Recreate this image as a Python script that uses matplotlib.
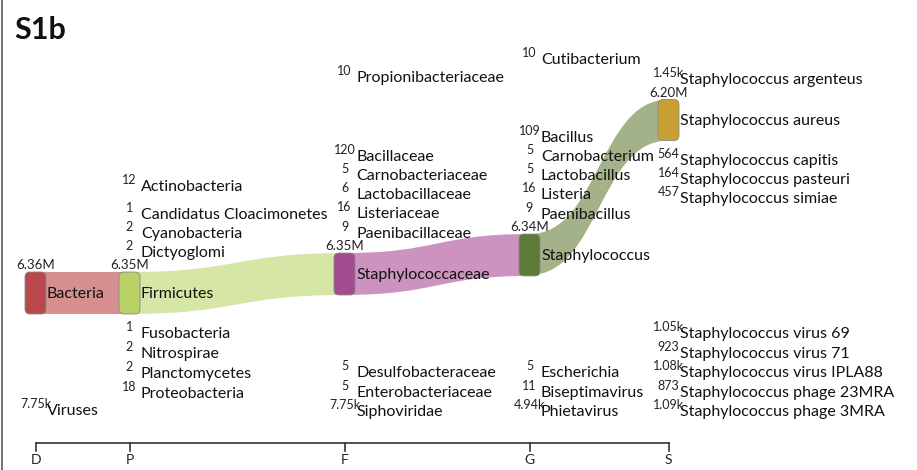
import matplotlib
matplotlib.use("Agg")
import matplotlib.pyplot as plt
from matplotlib.path import Path
from matplotlib.patches import PathPatch, FancyBboxPatch

# ---- data -------------------------------------------------------------
ranks = ["D", "P", "F", "G", "S"]

# main path through the tree
main_names = ["Bacteria", "Firmicutes", "Staphylococcaceae", "Staphylococcus", "Staphylococcus aureus"]
main_values = [6.36e6, 6.35e6, 6.35e6, 6.34e6, 6.20e6]
main_labels = ["6.36M", "6.35M", "6.35M", "6.34M", "6.20M"]

# other (small) nodes per rank: (count label, name)
others_D = [("7.75k", "Viruses")]
others_P = [("12", "Actinobacteria"), ("1", "Candidatus Cloacimonetes"), ("2", "Cyanobacteria"),
            ("2", "Dictyoglomi"), ("1", "Fusobacteria"), ("2", "Nitrospirae"),
            ("2", "Planctomycetes"), ("18", "Proteobacteria")]
others_F = [("10", "Propionibacteriaceae"), ("120", "Bacillaceae"), ("5", "Carnobacteriaceae"),
            ("6", "Lactobacillaceae"), ("16", "Listeriaceae"), ("9", "Paenibacillaceae"),
            ("5", "Desulfobacteraceae"), ("5", "Enterobacteriaceae"), ("7.75k", "Siphoviridae")]
others_G = [("10", "Cutibacterium"), ("109", "Bacillus"), ("5", "Carnobacterium"),
            ("5", "Lactobacillus"), ("16", "Listeria"), ("9", "Paenibacillus"),
            ("5", "Escherichia"), ("11", "Biseptimavirus"), ("4.94k", "Phietavirus")]
others_S = [("1.45k", "Staphylococcus argenteus"), ("564", "Staphylococcus capitis"),
            ("164", "Staphylococcus pasteuri"), ("457", "Staphylococcus simiae"),
            ("1.05k", "Staphylococcus virus 69"), ("923", "Staphylococcus virus 71"),
            ("1.08k", "Staphylococcus virus IPLA88"), ("873", "Staphylococcus phage 23MRA"),
            ("1.09k", "Staphylococcus phage 3MRA")]

# ---- layout (pixels) --------------------------------------------------
col_x = [35.5, 129.5, 344.5, 529.5, 668.5]
main_y = [293, 293, 274, 255, 120]
others_y = [
    [410],
    [186, 214, 233, 252, 333, 353, 373, 393],
    [77, 156, 175, 194, 213, 233, 372, 392, 411],
    [59, 137, 156, 175, 194, 214, 372, 392, 411],
    [79, 160, 179, 198, 333, 353, 372, 392, 411],
]
box_w = 21
px_per_read = 42 / 6.36e6

box_cols = ["#b9484d", "#b8d266", "#a24b91", "#5d7a37", "#c8a032"]
link_cols = ["#d58f8f", "#d5e6a6", "#cc92c0", "#a3b289"]

main_font = ["Lato", "DejaVu Sans"]
narrow_font = ["Liberation Sans Narrow", "Lato", "DejaVu Sans"]


def count_font(lbl):
    # the "k" counts are squeezed in the original
    return narrow_font if lbl.endswith("k") else main_font


fig = plt.figure(figsize=(9.17, 4.70), dpi=100)
ax = fig.add_axes([0, 0, 1, 1])
ax.set_xlim(0, 917)
ax.set_ylim(470, 0)
ax.axis("off")

heights = [v * px_per_read for v in main_values]

# links
for i in range(len(main_names) - 1):
    h = heights[i + 1]
    xa, xb = col_x[i], col_x[i + 1]
    ya = main_y[i] - heights[i] / 2
    yb = main_y[i + 1] - h / 2
    xm = (xa + xb) / 2
    verts = [(xa, ya), (xm, ya), (xm, yb), (xb, yb),
             (xb, yb + h), (xm, yb + h), (xm, ya + h), (xa, ya + h), (xa, ya)]
    codes = [Path.MOVETO, Path.CURVE4, Path.CURVE4, Path.CURVE4,
             Path.LINETO, Path.CURVE4, Path.CURVE4, Path.CURVE4, Path.CLOSEPOLY]
    ax.add_patch(PathPatch(Path(verts, codes), facecolor=link_cols[i], edgecolor="none", zorder=1))

# main boxes + labels
for i, name in enumerate(main_names):
    h = heights[i]
    x0 = col_x[i] - box_w / 2
    y0 = main_y[i] - h / 2
    ax.add_patch(FancyBboxPatch((x0 + 3, y0 + 3), box_w - 6, h - 6,
                                boxstyle="round,pad=3,rounding_size=5",
                                facecolor=box_cols[i], edgecolor="#888888", lw=0.6, zorder=2))
    ax.text(col_x[i], y0 - 1, main_labels[i], ha="center", va="bottom",
            fontsize=9.5, family=main_font, color="#222222", zorder=3)
    ax.text(col_x[i] + box_w / 2 + 1, main_y[i] + 1, name, ha="left", va="center",
            fontsize=11.5, family=main_font, color="#111111", zorder=3)

# other nodes
for i, nodes in enumerate([others_D, others_P, others_F, others_G, others_S]):
    for (cnt, name), y in zip(nodes, others_y[i]):
        ax.text(col_x[i], y - 6, cnt, ha="center", va="center",
                fontsize=9, family=count_font(cnt), color="#222222")
        ax.text(col_x[i] + box_w / 2 + 1, y + 1, name, ha="left", va="center",
                fontsize=11.5, family=main_font, color="#111111")

# rank axis
ax.plot([col_x[0], col_x[-1]], [443, 443], color="#333333", lw=1.2)
for x, r in zip(col_x, ranks):
    ax.plot([x, x], [443, 451], color="#333333", lw=1.2)
    ax.text(x, 460, r, ha="center", va="center", fontsize=10, family=narrow_font, color="#222222")

# left border and title
ax.plot([2, 2], [0, 470], color="#666666", lw=1.3)
ax.text(14, 30, "S1b", ha="left", va="center", fontsize=22, fontweight="bold",
        family=["Lato", "DejaVu Sans"], color="#111111")

fig.savefig("out.png", dpi=100)
